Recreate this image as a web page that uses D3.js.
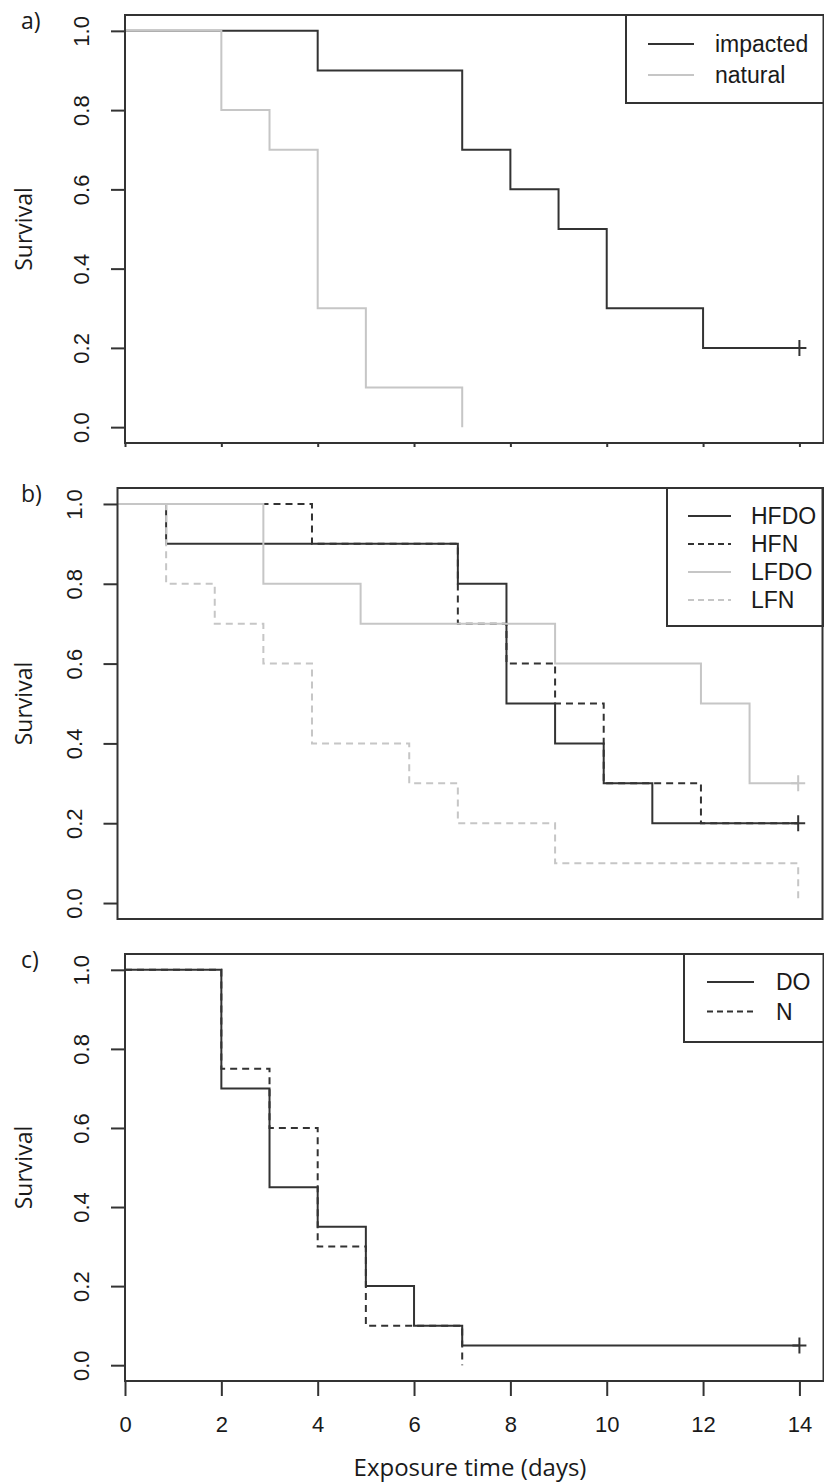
<!DOCTYPE html>
<html>
<head>
<meta charset="utf-8">
<script src="https://cdnjs.cloudflare.com/ajax/libs/d3/7.8.5/d3.min.js"></script>
<style>
  body { margin: 0; background: #fff; }
  svg { display: block; }
</style>
</head>
<body>
<script>
// tick values
var dayTicks = [0, 2, 4, 6, 8, 10, 12, 14];
var survTicks = [0, 0.2, 0.4, 0.6, 0.8, 1.0];

// panel a
var impactedDay = [0, 4, 7, 8, 9, 10, 12, 14];
var impactedSurv = [1, 0.9, 0.7, 0.6, 0.5, 0.3, 0.2, 0.2];
var naturalDay = [0, 2, 3, 4, 5, 7];
var naturalSurv = [1, 0.8, 0.7, 0.3, 0.1, 0];

// panel b
var hfdoDay = [0, 1, 7, 8, 9, 10, 11, 14];
var hfdoSurv = [1, 0.9, 0.8, 0.5, 0.4, 0.3, 0.2, 0.2];
var hfnDay = [0, 4, 7, 8, 9, 10, 12, 14];
var hfnSurv = [1, 0.9, 0.7, 0.6, 0.5, 0.3, 0.2, 0.2];
var lfdoDay = [0, 3, 5, 9, 12, 13, 14];
var lfdoSurv = [1, 0.8, 0.7, 0.6, 0.5, 0.3, 0.3];
var lfnDay = [0, 1, 2, 3, 4, 6, 7, 9, 14];
var lfnSurv = [1, 0.8, 0.7, 0.6, 0.4, 0.3, 0.2, 0.1, 0];

// panel c
var doDay = [0, 2, 3, 4, 5, 6, 7, 14];
var doSurv = [1, 0.7, 0.45, 0.35, 0.2, 0.1, 0.05, 0.05];
var nDay = [0, 2, 3, 4, 5, 7];
var nSurv = [1, 0.75, 0.6, 0.3, 0.1, 0];

var DARK = "#333", LIGHT = "#c6c6c6";

var svg = d3.select("body").append("svg").attr("width", 824).attr("height", 1484);

function zip(xs, ys) {
    return xs.map(function (d, i) { return [d, ys[i]]; });
}

var panels = [
    {
        tag: "a)", left: 125, right: 823.5, top: 15, bottom: 443,
        legend: {x: 626, y: 15, w: 198, h: 88, lx1: 648, lx2: 694, tx: 715, row0: 44, step: 31},
        series: [
            {name: "impacted", pts: zip(impactedDay, impactedSurv), color: DARK, dash: null, cens: true},
            {name: "natural", pts: zip(naturalDay, naturalSurv), color: LIGHT, dash: null, cens: false}
        ],
        smallTicks: true
    },
    {
        tag: "b)", left: 117.5, right: 822.5, top: 488, bottom: 919,
        legend: {x: 667, y: 488, w: 157, h: 138, lx1: 688, lx2: 731, tx: 751, row0: 516, step: 28},
        series: [
            {name: "HFDO", pts: zip(hfdoDay, hfdoSurv), color: DARK, dash: null, cens: true},
            {name: "HFN", pts: zip(hfnDay, hfnSurv), color: DARK, dash: "7,5", cens: false},
            {name: "LFDO", pts: zip(lfdoDay, lfdoSurv), color: LIGHT, dash: null, cens: true},
            {name: "LFN", pts: zip(lfnDay, lfnSurv), color: LIGHT, dash: "7,5", cens: false}
        ]
    },
    {
        tag: "c)", left: 125, right: 823.5, top: 954, bottom: 1381,
        legend: {x: 684, y: 954, w: 140, h: 88, lx1: 707, lx2: 754, tx: 776, row0: 982, step: 29.5},
        series: [
            {name: "DO", pts: zip(doDay, doSurv), color: DARK, dash: null, cens: true},
            {name: "N", pts: zip(nDay, nSurv), color: DARK, dash: "7,5", cens: false}
        ],
        xAxis: true
    }
];

panels.forEach(function (p) {
    var x = d3.scaleLinear().domain([0, 14.5]).range([p.left, p.right]);
    var y = d3.scaleLinear().domain([-0.04, 1.04]).range([p.bottom, p.top]);
    var g = svg.append("g");

    // y axis
    var ya = g.append("g")
        .attr("transform", "translate(" + p.left + ",0)")
        .call(d3.axisLeft(y).tickValues(survTicks).tickSize(14).tickFormat(d3.format(".1f")));
    ya.select(".domain").remove();
    ya.selectAll("line").attr("stroke", DARK).attr("stroke-width", 2);
    ya.selectAll("text")
        .attr("transform", "rotate(-90)")
        .attr("x", 0).attr("y", -36).attr("dy", 0)
        .attr("text-anchor", "middle")
        .attr("fill", "#1a1a1a")
        .style("font", "22px 'Liberation Sans', Arial, sans-serif");

    if (p.smallTicks) {
        var sa = g.append("g")
            .attr("transform", "translate(0," + p.bottom + ")")
            .call(d3.axisBottom(x).tickValues(dayTicks).tickSize(4).tickFormat(""));
        sa.select(".domain").remove();
        sa.selectAll("line").attr("stroke", DARK).attr("stroke-width", 2);
    }

    if (p.xAxis) {
        var xa = g.append("g")
            .attr("transform", "translate(0," + p.bottom + ")")
            .call(d3.axisBottom(x).tickValues(dayTicks).tickSize(15).tickPadding(20));
        xa.select(".domain").remove();
        xa.selectAll("line").attr("stroke", DARK).attr("stroke-width", 2);
        xa.selectAll("text")
            .attr("fill", "#1a1a1a")
            .style("font", "22px 'Liberation Sans', Arial, sans-serif");
    }

    // curves
    var line = d3.line()
        .x(function (d) { return x(d[0]); })
        .y(function (d) { return y(d[1]); })
        .curve(d3.curveStepAfter);

    p.series.forEach(function (s) {
        g.append("path")
            .attr("d", line(s.pts))
            .attr("fill", "none")
            .attr("stroke", s.color)
            .attr("stroke-width", 2)
            .attr("stroke-dasharray", s.dash);
        if (s.cens) {
            var last = s.pts[s.pts.length - 1];
            g.append("path")
                .attr("d", "M" + (x(last[0]) - 7) + "," + y(last[1]) + "h14M" + x(last[0]) + "," + (y(last[1]) - 8) + "v16")
                .attr("stroke", s.color)
                .attr("stroke-width", 2);
        }
    });

    // legend
    var L = p.legend;
    g.append("rect")
        .attr("x", L.x).attr("y", L.y).attr("width", L.w).attr("height", L.h)
        .attr("fill", "#fff").attr("stroke", DARK).attr("stroke-width", 2);
    p.series.forEach(function (s, i) {
        var ly = L.row0 + i * L.step;
        g.append("line")
            .attr("x1", L.lx1).attr("x2", L.lx2).attr("y1", ly).attr("y2", ly)
            .attr("stroke", s.color).attr("stroke-width", 2)
            .attr("stroke-dasharray", s.dash ? "6,4" : null);
        g.append("text")
            .attr("x", L.tx).attr("y", ly + 8)
            .attr("fill", "#1a1a1a")
            .style("font", "23px 'Liberation Sans', Arial, sans-serif")
            .text(s.name);
    });

    // plot box
    g.append("rect")
        .attr("x", p.left).attr("y", p.top)
        .attr("width", p.right - p.left).attr("height", p.bottom - p.top)
        .attr("fill", "none").attr("stroke", DARK).attr("stroke-width", 2);

    // panel tag and y label
    g.append("text")
        .attr("x", 21).attr("y", p.top + 14)
        .attr("fill", "#1a1a1a")
        .style("font", "23px 'Open Sans', sans-serif")
        .text(p.tag);
    g.append("text")
        .attr("transform", "translate(32," + ((p.top + p.bottom) / 2) + ") rotate(-90)")
        .attr("text-anchor", "middle")
        .attr("fill", "#1a1a1a")
        .style("font", "23px 'Open Sans', sans-serif")
        .text("Survival");
});

svg.append("text")
    .attr("x", 470).attr("y", 1476)
    .attr("text-anchor", "middle")
    .attr("fill", "#1a1a1a")
    .style("font", "24px 'Open Sans', sans-serif")
    .text("Exposure time (days)");
</script>
</body>
</html>
